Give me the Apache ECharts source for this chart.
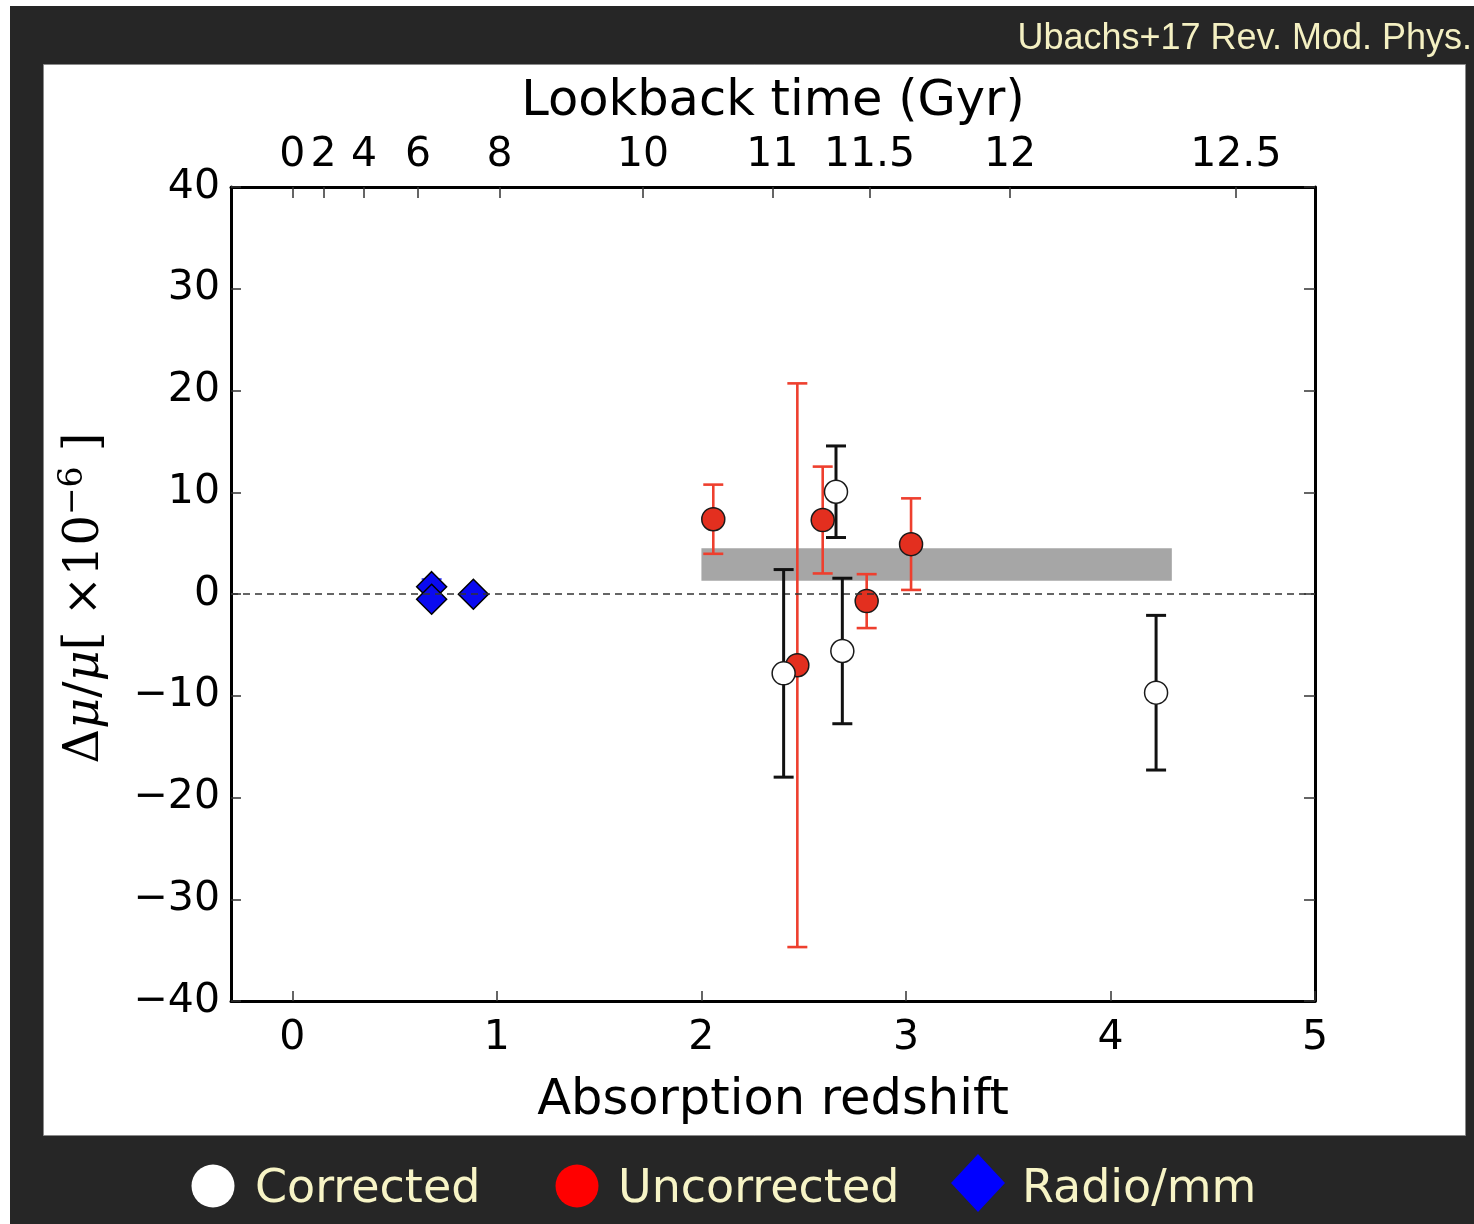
<!DOCTYPE html>
<html>
<head>
<meta charset="utf-8">
<title>Δμ/μ versus absorption redshift</title>
<script src="https://cdn.jsdelivr.net/npm/echarts@6/dist/echarts.min.js"></script>
<style>
  html, body { margin: 0; padding: 0; background: #ffffff; }
  #chart { width: 1474px; height: 1224px; }
</style>
</head>
<body>
<div id="chart"></div>
<script>
// ---- data ----------------------------------------------------------------
// Corrected H2 constraints (redshift, Δμ/μ in 1e-6, 1σ error)
const correctedZ   = [2.402, 2.658, 2.689, 4.223];
const correctedVal = [-7.8, 10.05, -5.6, -9.7];
const correctedErr = [10.2, 4.5, 7.15, 7.6];

// Uncorrected H2 constraints
const uncorrectedZ   = [2.058, 2.469, 2.593, 2.808, 3.025];
const uncorrectedVal = [7.35, -7.0, 7.27, -0.7, 4.9];
const uncorrectedErr = [3.4, 27.7, 5.25, 2.65, 4.5];

// Radio / mm absorbers
const radioZ   = [0.681, 0.681, 0.885];
const radioVal = [0.72, -0.52, -0.03];
const radioErr = [0.75, 0.1, 0.1];

// Weighted-mean band for the optical sample
const bandZ     = [2.0, 4.3];
const bandRange = [1.3, 4.5];

// Bottom axis ticks (redshift)
const redshiftTicks = [0, 1, 2, 3, 4, 5];
// Top axis: lookback time labels and the redshift where each sits
const lookbackLabels = ['0', '2', '4', '6', '8', '10', '11', '11.5', '12', '12.5'];
const lookbackZ      = [0, 0.153, 0.350, 0.615, 1.013, 1.715, 2.347, 2.822, 3.509, 4.613];

// Left axis ticks
const yMin = -40, yMax = 40, yStep = 10;
const zeroLevel = 0;

// ---- helpers -------------------------------------------------------------
const zip3 = (a, b, c) => a.map((v, i) => [v, b[i], c[i]]);
const minus = v => String(v).replace('-', '\u2212');

function errorBars(color, width, capHalf) {
  return function (params, api) {
    const x = api.value(0), y = api.value(1), e = api.value(2);
    const hi = api.coord([x, y + e]);
    const lo = api.coord([x, y - e]);
    const st = { stroke: color, lineWidth: width };
    return {
      type: 'group',
      children: [
        { type: 'line', shape: { x1: hi[0], y1: hi[1], x2: lo[0], y2: lo[1] }, style: st },
        { type: 'line', shape: { x1: hi[0] - capHalf, y1: hi[1], x2: hi[0] + capHalf, y2: hi[1] }, style: st },
        { type: 'line', shape: { x1: lo[0] - capHalf, y1: lo[1], x2: lo[0] + capHalf, y2: lo[1] }, style: st }
      ]
    };
  };
}

const FONT = 'DejaVu Sans';
const spine = { show: true, onZero: false, lineStyle: { color: '#000', width: 3 } };
const tickStyle = { color: '#333', width: 1.5 };

const chart = echarts.init(document.getElementById('chart'), null, { renderer: 'canvas' });

const option = {
  backgroundColor: '#ffffff',
  animation: false,
  grid: { left: 231, top: 187, width: 1084, height: 814 },
  xAxis: [
    {
      type: 'value', position: 'bottom', min: -0.3, max: 5,
      axisLine: spine,
      axisTick: { show: true, inside: true, length: 10, customValues: redshiftTicks, lineStyle: tickStyle },
      axisLabel: { show: true, customValues: redshiftTicks, fontSize: 41, fontFamily: FONT, color: '#000', margin: 17 },
      splitLine: { show: false },
      name: 'Absorption redshift', nameLocation: 'middle', nameGap: 75,
      nameTextStyle: { fontSize: 49.5, fontFamily: FONT, color: '#000' }
    },
    {
      type: 'value', position: 'top', min: -0.3, max: 5,
      axisLine: spine,
      axisTick: { show: true, inside: true, length: 11, customValues: lookbackZ, lineStyle: tickStyle },
      axisLabel: {
        show: true, customValues: lookbackZ, fontSize: 41, fontFamily: FONT, color: '#000', margin: 11,
        formatter: function (v) {
          let best = 0;
          lookbackZ.forEach((z, i) => { if (Math.abs(z - v) < Math.abs(lookbackZ[best] - v)) best = i; });
          return lookbackLabels[best];
        }
      },
      splitLine: { show: false },
      name: 'Lookback time (Gyr)', nameLocation: 'middle', nameGap: 60,
      nameTextStyle: { fontSize: 49.5, fontFamily: FONT, color: '#000' }
    }
  ],
  yAxis: [
    {
      type: 'value', position: 'left', min: yMin, max: yMax, interval: yStep,
      axisLine: spine,
      axisTick: { show: true, inside: true, length: 10, lineStyle: tickStyle },
      axisLabel: { fontSize: 41, fontFamily: FONT, color: '#000', margin: 11, formatter: minus },
      splitLine: { show: false }
    },
    {
      type: 'value', position: 'right', min: yMin, max: yMax, interval: yStep,
      axisLine: spine,
      axisTick: { show: true, inside: true, length: 11, lineStyle: tickStyle },
      axisLabel: { show: false },
      splitLine: { show: false }
    }
  ],
  series: [
    // mean band
    {
      type: 'line', data: [], z: 1, silent: true,
      markArea: {
        silent: true,
        itemStyle: { color: '#a6a6a6', opacity: 1 },
        data: [[{ coord: [bandZ[0], bandRange[1]] }, { coord: [bandZ[1], bandRange[0]] }]]
      }
    },
    // radio / mm
    {
      type: 'custom', z: 2, renderItem: errorBars('#1a1aff', 1.5, 10),
      encode: { x: 0, y: 1 }, data: zip3(radioZ, radioVal, radioErr), silent: true
    },
    {
      name: 'Radio/mm', type: 'scatter', z: 2, symbol: 'diamond', symbolSize: [30, 30],
      itemStyle: { color: '#0a0af0', borderColor: '#000', borderWidth: 1.5, opacity: 1 },
      data: radioZ.map((z, i) => [z, radioVal[i]]), silent: true
    },
    // zero reference
    {
      type: 'line', data: [], z: 3, silent: true,
      markLine: {
        silent: true, symbol: 'none', label: { show: false },
        lineStyle: { color: '#333', width: 1.6, type: [7, 5] },
        data: [{ yAxis: zeroLevel }]
      }
    },
    // uncorrected
    {
      type: 'custom', z: 4, renderItem: errorBars('#ee3f2e', 2.6, 10),
      encode: { x: 0, y: 1 }, data: zip3(uncorrectedZ, uncorrectedVal, uncorrectedErr), silent: true
    },
    {
      name: 'Uncorrected', type: 'scatter', z: 4, symbol: 'circle', symbolSize: 23,
      itemStyle: { color: '#e32f1f', borderColor: '#1a1a1a', borderWidth: 1.5, opacity: 1 },
      data: uncorrectedZ.map((z, i) => [z, uncorrectedVal[i]]), silent: true
    },
    // corrected
    {
      type: 'custom', z: 5, renderItem: errorBars('#111', 3, 10),
      encode: { x: 0, y: 1 }, data: zip3(correctedZ, correctedVal, correctedErr), silent: true
    },
    {
      name: 'Corrected', type: 'scatter', z: 5, symbol: 'circle', symbolSize: 23,
      itemStyle: { color: '#ffffff', borderColor: '#1a1a1a', borderWidth: 1.5, opacity: 1 },
      data: correctedZ.map((z, i) => [z, correctedVal[i]]), silent: true
    }
  ],
  graphic: [
    // dark frame and white figure panel
    { type: 'rect', z: -100, silent: true, shape: { x: 10, y: 6, width: 1464, height: 1218 }, style: { fill: '#262626' } },
    { type: 'rect', z: -99, silent: true, shape: { x: 43.5, y: 64.5, width: 1422, height: 1071 }, style: { fill: '#ffffff', stroke: '#8a8a8a', lineWidth: 1 } },
    // reference note
    {
      type: 'text', z: 10, x: 1472, y: 39, silent: true,
      style: { text: 'Ubachs+17 Rev. Mod. Phys.', fill: '#f4f0c2', font: '36px "Liberation Sans", Arial, sans-serif', textAlign: 'right', textVerticalAlign: 'middle' }
    },
    // y-axis title
    {
      type: 'text', z: 10, x: 86, y: 598, rotation: Math.PI / 2, silent: true,
      style: {
        text: '{a|Δ}{i|μ}{a|/}{i|μ}{a|[ ×10}{s|−6}{a| ]}',
        textAlign: 'center', textVerticalAlign: 'middle', fill: '#000',
        rich: {
          a: { fontFamily: 'DejaVu Serif', fontSize: 48, fill: '#000', color: '#000' },
          i: { fontFamily: 'DejaVu Serif', fontStyle: 'italic', fontSize: 48, fill: '#000', color: '#000' },
          s: { fontFamily: 'DejaVu Serif', fontSize: 33, fill: '#000', color: '#000', verticalAlign: 'top', padding: [0, 0, 26, 0] }
        }
      }
    },
    // legend
    { type: 'circle', z: 10, silent: true, shape: { cx: 213, cy: 1186, r: 21.5 }, style: { fill: '#ffffff' } },
    { type: 'text', z: 10, x: 255, y: 1190, silent: true, style: { text: 'Corrected', fill: '#f7f4c6', font: '46px "DejaVu Sans"', textVerticalAlign: 'middle' } },
    { type: 'circle', z: 10, silent: true, shape: { cx: 577, cy: 1186, r: 21.5 }, style: { fill: '#ff0000' } },
    { type: 'text', z: 10, x: 618, y: 1190, silent: true, style: { text: 'Uncorrected', fill: '#f7f4c6', font: '46px "DejaVu Sans"', textVerticalAlign: 'middle' } },
    { type: 'polygon', z: 10, silent: true, shape: { points: [[978, 1154], [1005, 1183], [978, 1212], [951, 1183]] }, style: { fill: '#0000ff' } },
    { type: 'text', z: 10, x: 1022, y: 1190, silent: true, style: { text: 'Radio/mm', fill: '#f7f4c6', font: '46px "DejaVu Sans"', textVerticalAlign: 'middle' } }
  ]
};

chart.setOption(option);
</script>
</body>
</html>
